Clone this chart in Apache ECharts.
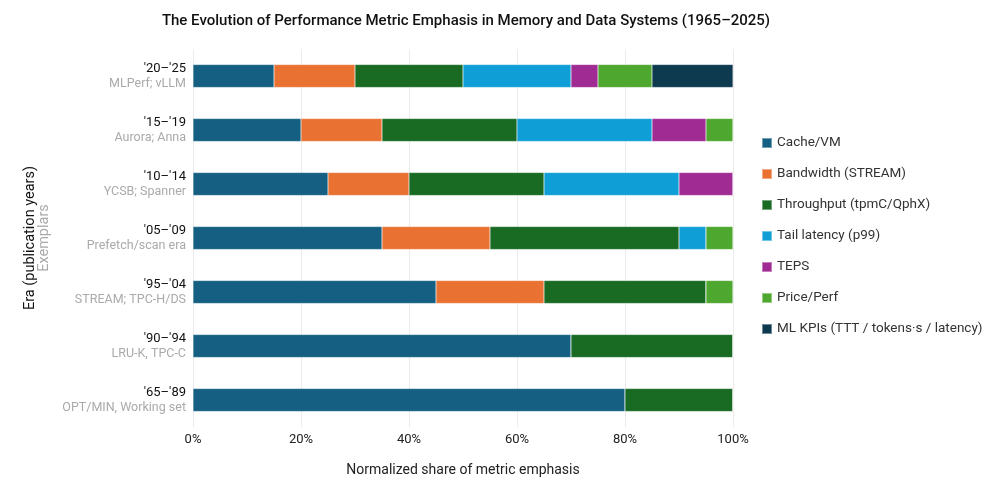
<!DOCTYPE html>
<html>
<head>
<meta charset="utf-8">
<script src="https://cdn.jsdelivr.net/npm/echarts@6/dist/echarts.min.js"></script>
<style>html,body{margin:0;padding:0;background:#fff}#c{width:997px;height:496px}</style>
</head>
<body>
<div id="c"></div>
<script>
const eras = ["'65–'89", "'90–'94", "'95–'04", "'05–'09", "'10–'14", "'15–'19", "'20–'25"];
const exemplars = ["OPT/MIN, Working set", "LRU-K, TPC-C", "STREAM; TPC-H/DS", "Prefetch/scan era", "YCSB; Spanner", "Aurora; Anna", "MLPerf; vLLM"];
const seriesNames = ["Cache/VM", "Bandwidth (STREAM)", "Throughput (tpmC/QphX)", "Tail latency (p99)", "TEPS", "Price/Perf", "ML KPIs (TTT / tokens·s / latency)"];
const cacheVM     = [80, 70, 45, 35, 25, 20, 15];
const bandwidth   = [0, 0, 20, 20, 15, 15, 15];
const throughput  = [20, 30, 30, 35, 25, 25, 20];
const tailLatency = [0, 0, 0, 5, 25, 25, 20];
const teps        = [0, 0, 0, 0, 10, 10, 5];
const pricePerf   = [0, 0, 5, 5, 0, 5, 10];
const mlKpis      = [0, 0, 0, 0, 0, 0, 15];
const xTicks = [0, 20, 40, 60, 80, 100];

const colors = ["#156082", "#E97132", "#196B24", "#0F9ED5", "#A02B93", "#4EA72E", "#0E3A50"];
const values = [cacheVM, bandwidth, throughput, tailLatency, teps, pricePerf, mlKpis];

const chart = echarts.init(document.getElementById('c'));
chart.setOption({
  animation: false,
  textStyle: { fontFamily: 'Roboto' },
  title: {
    text: 'The Evolution of Performance Metric Emphasis in Memory and Data Systems (1965–2025)',
    left: 461, top: 9, textAlign: 'center',
    textStyle: { fontSize: 15, fontWeight: 500, color: '#111', fontFamily: 'Roboto' }
  },
  legend: {
    orient: 'vertical', left: 756, top: 131,
    itemWidth: 10, itemHeight: 10, itemGap: 17, icon: 'rect',
    textStyle: { fontSize: 13.5, color: '#333' },
    data: seriesNames
  },
  grid: { left: 193, right: 264, top: 49, bottom: 69 },
  xAxis: {
    type: 'value', min: 0, max: 100, interval: 20,
    name: 'Normalized share of metric emphasis', nameLocation: 'middle', nameGap: 36,
    nameTextStyle: { fontSize: 14, color: '#222' },
    axisLine: { show: false }, axisTick: { show: false },
    axisLabel: { fontSize: 13, color: '#222', margin: 6, formatter: v => xTicks.includes(v) ? v + '%' : '' },
    splitLine: { lineStyle: { color: '#ebebeb' } }
  },
  yAxis: {
    type: 'category', data: eras,
    name: '{a|Era (publication years)}\n{b|Exemplars}', nameLocation: 'middle', nameRotate: 90, nameGap: 133,
    nameTextStyle: { rich: { a: { fontSize: 14.5, color: '#111', lineHeight: 14 }, b: { fontSize: 14.5, color: '#aaa', lineHeight: 14 } } },
    axisLine: { show: false }, axisTick: { show: false },
    axisLabel: {
      margin: 7,
      formatter: (v, i) => '{e|' + v + '}\n{x|' + exemplars[i] + '}',
      rich: { e: { fontSize: 13, color: '#111', lineHeight: 15, align: 'right' }, x: { fontSize: 12.5, color: '#aaa', lineHeight: 15, align: 'right' } }
    }
  },
  series: seriesNames.map((n, i) => ({
    name: n, type: 'bar', stack: 'total', barWidth: 23,
    itemStyle: { color: colors[i], borderColor: 'rgba(255,255,255,0.4)', borderWidth: 0.5 },
    data: values[i]
  }))
});
</script>
</body>
</html>
